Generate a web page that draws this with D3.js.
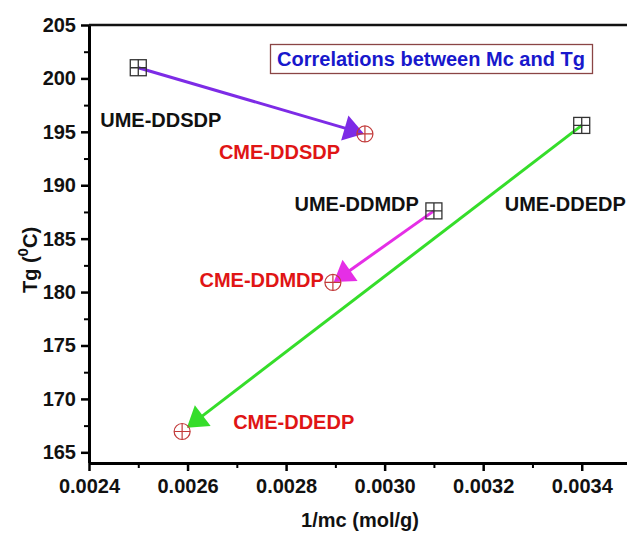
<!DOCTYPE html>
<html>
<head>
<meta charset="utf-8">
<script src="https://cdn.jsdelivr.net/npm/d3@7"></script>
<style>
  body { margin: 0; background: #fff; }
  text { font-family: "Liberation Sans", Arial, sans-serif; font-weight: bold; }
</style>
</head>
<body>
<script>
// resins: uncured (UME) -> cured (CME)
const systems = ["DDSDP", "DDMDP", "DDEDP"];
const umeX = [0.00250, 0.00310, 0.00340];
const umeTg = [201.0, 187.6, 195.6];
const cmeX = [0.00296, 0.002895, 0.002589];
const cmeTg = [194.8, 180.9, 166.95];
const xTicks = [0.0024, 0.0026, 0.0028, 0.0030, 0.0032, 0.0034];
const yTicks = [165, 170, 175, 180, 185, 190, 195, 200, 205];

const arrowColors = ["#7d2be6", "#e52ee6", "#35dd2a"];

const width = 627, height = 533;
const mLeft = 89, mRight = 631, mTop = 25, mBottom = 463;

const svg = d3.select("body").append("svg")
    .attr("width", width)
    .attr("height", height);

const x = d3.scaleLinear().domain([0.0024, 0.0035]).range([mLeft, mRight]);
const y = d3.scaleLinear().domain([164, 205]).range([mBottom, mTop]);

// minor ticks first
const xMinor = d3.range(0.0025, 0.0035, 0.0002);
const yMinor = d3.range(167.5, 205, 5);

svg.append("g")
    .attr("transform", `translate(0,${mBottom})`)
    .call(d3.axisBottom(x).tickValues(xMinor).tickSize(5).tickFormat(""))
    .call(g => g.select(".domain").remove())
    .selectAll("line").attr("stroke-width", 2);

svg.append("g")
    .attr("transform", `translate(${mLeft},0)`)
    .call(d3.axisLeft(y).tickValues(yMinor).tickSize(5).tickFormat(""))
    .call(g => g.select(".domain").remove())
    .selectAll("line").attr("stroke-width", 2);

const xAxis = svg.append("g")
    .attr("transform", `translate(0,${mBottom})`)
    .call(d3.axisBottom(x).tickValues(xTicks).tickSize(8).tickPadding(8)
        .tickFormat(d3.format(".4f")));
xAxis.select(".domain").attr("stroke-width", 3).attr("d", `M${mLeft},0.5H${width}`);
xAxis.selectAll("line").attr("stroke-width", 2.5);
xAxis.selectAll("text").attr("font-size", 20).attr("fill", "#111");

const yAxis = svg.append("g")
    .attr("transform", `translate(${mLeft},0)`)
    .call(d3.axisLeft(y).tickValues(yTicks).tickSize(8).tickPadding(5));
yAxis.select(".domain").attr("stroke-width", 3).attr("d", `M0.5,${mBottom}V${mTop}`);
yAxis.selectAll("line").attr("stroke-width", 2.5);
yAxis.selectAll("text").attr("font-size", 20).attr("fill", "#111");

// top frame line
svg.append("line")
    .attr("x1", mLeft).attr("x2", width)
    .attr("y1", mTop).attr("y2", mTop)
    .attr("stroke", "#111").attr("stroke-width", 2.5);

// axis titles
svg.append("text")
    .attr("x", (mLeft + mRight) / 2).attr("y", 527)
    .attr("text-anchor", "middle")
    .attr("font-size", 20).attr("fill", "#111")
    .text("1/mc (mol/g)");

const yt = svg.append("text")
    .attr("transform", "translate(37,260) rotate(-90)")
    .attr("text-anchor", "middle")
    .attr("font-size", 20).attr("fill", "#111");
yt.append("tspan").text("Tg (");
yt.append("tspan").attr("font-size", 15).attr("dy", -9).text("0");
yt.append("tspan").attr("dy", 9).text("C)");

// arrows from UME to CME
systems.forEach((s, i) => {
  const x0 = x(umeX[i]), y0 = y(umeTg[i]);
  const x1 = x(cmeX[i]), y1 = y(cmeTg[i]);
  const dx = x1 - x0, dy = y1 - y0, len = Math.hypot(dx, dy);
  const ux = dx / len, uy = dy / len;
  const gap = [1, 1, 6][i];
  const tipX = x1 - ux * gap, tipY = y1 - uy * gap;
  const hl = 20, hw = 13;
  const bx = tipX - ux * hl, by = tipY - uy * hl;
  svg.append("line")
      .attr("x1", x0).attr("y1", y0)
      .attr("x2", bx + ux * 2).attr("y2", by + uy * 2)
      .attr("stroke", arrowColors[i]).attr("stroke-width", 3);
  svg.append("path")
      .attr("d", `M${tipX},${tipY}L${bx - uy * hw},${by + ux * hw}L${bx + uy * hw},${by - ux * hw}Z`)
      .attr("fill", arrowColors[i]);
});

// CME markers: circle with cross
systems.forEach((s, i) => {
  const cx = x(cmeX[i]), cy = y(cmeTg[i]), r = 8;
  const g = svg.append("g").attr("fill", "none").attr("stroke", "#c23a3a").attr("stroke-width", 1.2);
  g.append("circle").attr("cx", cx).attr("cy", cy).attr("r", r);
  g.append("path").attr("d", `M${cx - r},${cy}H${cx + r}M${cx},${cy - r}V${cy + r}`);
});

// UME markers: square with cross
systems.forEach((s, i) => {
  const cx = x(umeX[i]), cy = y(umeTg[i]), h = 8;
  const g = svg.append("g").attr("fill", "none").attr("stroke", "#333").attr("stroke-width", 1.3);
  g.append("rect").attr("x", cx - h).attr("y", cy - h).attr("width", 2 * h).attr("height", 2 * h);
  g.append("path").attr("d", `M${cx - h},${cy}H${cx + h}M${cx},${cy - h}V${cy + h}`);
});

// labels (pixel offsets from their points)
const umeOff = [[-38, 59, "start"], [-15, 0, "end"], [-77, 86, "start"]];
const cmeOff = [[-146, 25, "start"], [-9, 5, "end"], [51, -2, "start"]];
systems.forEach((s, i) => {
  svg.append("text")
      .attr("x", x(umeX[i]) + umeOff[i][0]).attr("y", y(umeTg[i]) + umeOff[i][1])
      .attr("text-anchor", umeOff[i][2])
      .attr("font-size", 20).attr("fill", "#111")
      .text("UME-" + s);
  svg.append("text")
      .attr("x", x(cmeX[i]) + cmeOff[i][0]).attr("y", y(cmeTg[i]) + cmeOff[i][1])
      .attr("text-anchor", cmeOff[i][2])
      .attr("font-size", 20).attr("fill", "#e01515")
      .text("CME-" + s);
});

// title box
svg.append("rect")
    .attr("x", 270.5).attr("y", 44.5).attr("width", 322).attr("height", 29)
    .attr("fill", "#fff").attr("stroke", "#8a4545").attr("stroke-width", 1.3);
svg.append("text")
    .attr("x", 431).attr("y", 66)
    .attr("text-anchor", "middle")
    .attr("font-size", 20).attr("fill", "#1818cc")
    .text("Correlations between Mc and Tg");
</script>
</body>
</html>
